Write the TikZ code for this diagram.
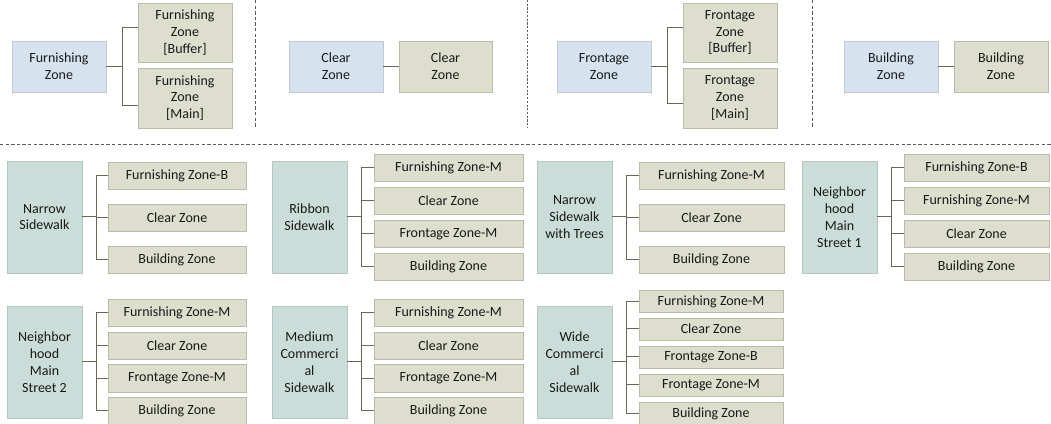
\documentclass[tikz,border=0pt]{standalone}
\usepackage{fontspec}
\setmainfont{Carlito}
\definecolor{bluefill}{HTML}{D6E3EE}
\definecolor{blueline}{HTML}{BFCAD6}
\definecolor{khakifill}{HTML}{DDDECE}
\definecolor{khakiline}{HTML}{B9BAA8}
\definecolor{tealfill}{HTML}{CBDDD9}
\definecolor{tealline}{HTML}{B3C6C2}
\definecolor{connclr}{HTML}{6A6555}
\definecolor{dashclr}{HTML}{5A5A5A}
\tikzset{
  basebox/.style={rectangle, inner sep=0pt, align=center, line width=0.6pt,
    font=\fontsize{10.5}{12.6}\selectfont, text=black!90},
  bluebox/.style={basebox, fill=bluefill, draw=blueline},
  khakibox/.style={basebox, fill=khakifill, draw=khakiline},
  tealbox/.style={basebox, fill=tealfill, draw=tealline},
  conn/.style={draw=connclr, line width=0.75pt},
  sepline/.style={draw=dashclr, line width=0.7pt, dash pattern=on 2.6pt off 1.6pt},
}
\newcommand{\bx}[7]{\node[#6, minimum width={(#4-#2)*0.75pt}, minimum height={(#5-#3)*0.75pt}] (#1) at ({(#2+#4)/2},{(#3+#5)/2}) {#7};}
\newcommand{\cn}[3]{\draw[conn] (#1.east) -- ++(#3,0) |- (#2.west);}
\begin{document}
\begin{tikzpicture}[x=0.75pt,y=-0.75pt]
\useasboundingbox (0,0) rectangle (1051,424);
% separators
\coordinate (s1t) at (255,0); \coordinate (s1b) at (255,128);
\coordinate (s2t) at (527,0); \coordinate (s2b) at (527,128);
\coordinate (s3t) at (812,0); \coordinate (s3b) at (812,128);
\coordinate (hl) at (0,144); \coordinate (hr) at (1051,144);
\draw[sepline] (s1t) -- (s1b);
\draw[sepline, dash pattern=on 1.6pt off 1.2pt] (s2t) -- (s2b);
\draw[sepline] (s3t) -- (s3b);
\draw[sepline] (hl) -- (hr);

% ---- top row ----
\bx{fzp}{12}{41}{106}{92}{bluebox}{Furnishing\\Zone}
\bx{fzb}{138}{3}{232}{62}{khakibox}{Furnishing\\Zone\\{}[Buffer]}
\bx{fzm}{138}{68}{232}{128}{khakibox}{Furnishing\\Zone\\{}[Main]}
\draw[conn] (fzp.east) -- ++(16,0) |- ([yshift=3.75pt]fzb.west);
\draw[conn] (fzp.east) -- ++(16,0) |- ([yshift=-6pt]fzm.west);

\bx{czp}{289}{41}{383}{92}{bluebox}{Clear\\Zone}
\bx{czc}{399}{41}{492}{92}{khakibox}{Clear\\Zone}
\draw[conn] (czp.east) -- (czc.west);

\bx{frp}{557}{41}{651}{92}{bluebox}{Frontage\\Zone}
\bx{frb}{683}{3}{777}{62}{khakibox}{Frontage\\Zone\\{}[Buffer]}
\bx{frm}{683}{68}{777}{128}{khakibox}{Frontage\\Zone\\{}[Main]}
\draw[conn] (frp.east) -- ++(16,0) |- ([yshift=3.75pt]frb.west);
\draw[conn] (frp.east) -- ++(16,0) |- ([yshift=-4.5pt]frm.west);

\bx{bzp}{844}{41}{938}{92}{bluebox}{Building\\Zone}
\bx{bzc}{954}{41}{1048}{92}{khakibox}{Building\\Zone}
\draw[conn] (bzp.east) -- (bzc.west);

% ---- second row ----
\bx{ns}{7}{161}{82}{273}{tealbox}{Narrow\\Sidewalk}
\bx{ns1}{108}{162}{246}{189.5}{khakibox}{Furnishing Zone-B}
\bx{ns2}{108}{204}{246}{231.5}{khakibox}{Clear Zone}
\bx{ns3}{108}{246}{246}{273.5}{khakibox}{Building Zone}
\cn{ns}{ns1}{14}\cn{ns}{ns2}{14}\cn{ns}{ns3}{14}

\bx{rs}{272}{161}{347}{273}{tealbox}{Ribbon\\Sidewalk}
\bx{rs1}{374}{154}{523}{181.5}{khakibox}{Furnishing Zone-M}
\bx{rs2}{374}{187}{523}{214.5}{khakibox}{Clear Zone}
\bx{rs3}{374}{220}{523}{247.5}{khakibox}{Frontage Zone-M}
\bx{rs4}{374}{253}{523}{280.5}{khakibox}{Building Zone}
\cn{rs}{rs1}{14}\cn{rs}{rs2}{14}\cn{rs}{rs3}{14}\cn{rs}{rs4}{14}

\bx{nt}{537}{161}{612}{273}{tealbox}{Narrow\\Sidewalk\\with Trees}
\bx{nt1}{639}{162}{784}{189.5}{khakibox}{Furnishing Zone-M}
\bx{nt2}{639}{204}{784}{231.5}{khakibox}{Clear Zone}
\bx{nt3}{639}{246}{784}{273.5}{khakibox}{Building Zone}
\cn{nt}{nt1}{14}\cn{nt}{nt2}{14}\cn{nt}{nt3}{14}

\bx{na}{802}{161}{877}{273}{tealbox}{Neighbor\\hood\\Main\\Street 1}
\bx{na1}{904}{154}{1049}{181.5}{khakibox}{Furnishing Zone-B}
\bx{na2}{904}{187}{1049}{214.5}{khakibox}{Furnishing Zone-M}
\bx{na3}{904}{220}{1049}{247.5}{khakibox}{Clear Zone}
\bx{na4}{904}{253}{1049}{280.5}{khakibox}{Building Zone}
\cn{na}{na1}{14}\cn{na}{na2}{14}\cn{na}{na3}{14}\cn{na}{na4}{14}

% ---- third row ----
\bx{nb}{7}{306}{82}{418}{tealbox}{Neighbor\\hood\\Main\\Street 2}
\bx{nb1}{108}{299}{246}{326.5}{khakibox}{Furnishing Zone-M}
\bx{nb2}{108}{332}{246}{359.5}{khakibox}{Clear Zone}
\bx{nb3}{108}{364.5}{246}{392}{khakibox}{Frontage Zone-M}
\bx{nb4}{108}{397}{246}{424.5}{khakibox}{Building Zone}
\cn{nb}{nb1}{14}\cn{nb}{nb2}{14}\cn{nb}{nb3}{14}\cn{nb}{nb4}{14}

\bx{mc}{272}{306}{347}{418}{tealbox}{Medium\\Commerci\\al\\Sidewalk}
\bx{mc1}{374}{299}{523}{326.5}{khakibox}{Furnishing Zone-M}
\bx{mc2}{374}{332}{523}{359.5}{khakibox}{Clear Zone}
\bx{mc3}{374}{364.5}{523}{392}{khakibox}{Frontage Zone-M}
\bx{mc4}{374}{397}{523}{424.5}{khakibox}{Building Zone}
\cn{mc}{mc1}{14}\cn{mc}{mc2}{14}\cn{mc}{mc3}{14}\cn{mc}{mc4}{14}

\bx{wc}{537}{306}{612}{418}{tealbox}{Wide\\Commerci\\al\\Sidewalk}
\bx{wc1}{639}{290.5}{783}{312.5}{khakibox}{Furnishing Zone-M}
\bx{wc2}{639}{318}{783}{340}{khakibox}{Clear Zone}
\bx{wc3}{639}{346}{783}{368}{khakibox}{Frontage Zone-B}
\bx{wc4}{639}{374}{783}{396}{khakibox}{Frontage Zone-M}
\bx{wc5}{639}{402.5}{783}{424.5}{khakibox}{Building Zone}
\cn{wc}{wc1}{14}\cn{wc}{wc2}{14}\cn{wc}{wc3}{14}\cn{wc}{wc4}{14}\cn{wc}{wc5}{14}
\end{tikzpicture}
\end{document}
